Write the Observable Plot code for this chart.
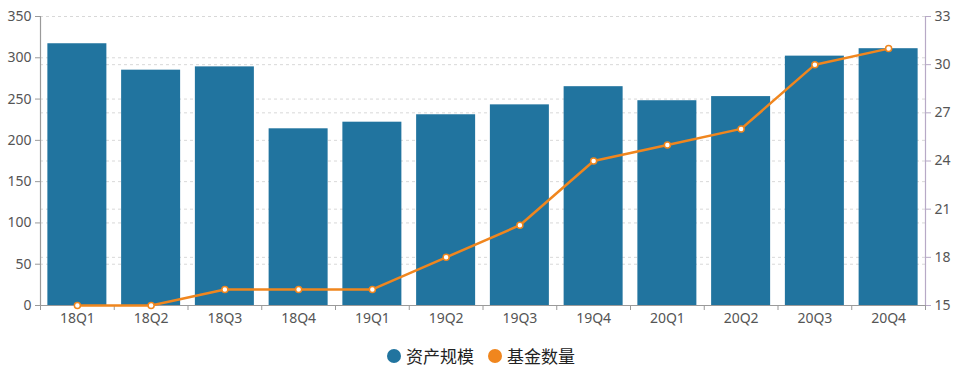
<!DOCTYPE html>
<html>
<head>
<meta charset="utf-8">
<script src="https://cdn.jsdelivr.net/npm/d3@7"></script>
<script src="https://cdn.jsdelivr.net/npm/@observablehq/plot@0.6"></script>
<style>
  html, body { margin: 0; padding: 0; background: #fff; }
  #chart { width: 962px; }
  .legend { display: flex; justify-content: center; align-items: center; gap: 14px; margin-top: 8px;
    font-family: "Noto Sans CJK SC", "Noto Sans", sans-serif; font-size: 17px; color: #222; }
  .legend span { display: inline-flex; align-items: center; }
  .legend i { display: inline-block; width: 14px; height: 14px; border-radius: 50%; margin-right: 5px; }
</style>
</head>
<body>
<div id="chart"></div>
<script>
const categories = ["18Q1","18Q2","18Q3","18Q4","19Q1","19Q2","19Q3","19Q4","20Q1","20Q2","20Q3","20Q4"];
const assetScale = [317, 285, 289, 214, 222, 231, 243, 265, 248, 253, 302, 311];
const fundCount = [15, 15, 16, 16, 16, 18, 20, 24, 25, 26, 30, 31];
const leftTicks = [0, 50, 100, 150, 200, 250, 300, 350];
const rightTicks = [15, 18, 21, 24, 27, 30, 33];
const seriesNames = ["资产规模", "基金数量"];
const colors = ["#21749f", "#f0861e"];

// map right-axis values onto the left-axis domain
const toLeft = v => (v - 15) / (33 - 15) * 350;
const fromLeft = d => Math.round(15 + d * (33 - 15) / 350);

const bars = categories.map((c, i) => ({i, c, v: assetScale[i]}));
const pts = categories.map((c, i) => ({i, c, v: fundCount[i]}));

const font = "'Noto Sans', 'DejaVu Sans', sans-serif";

const chart = Plot.plot({
  width: 962,
  height: 335,
  marginTop: 16,
  marginBottom: 30,
  marginLeft: 40,
  marginRight: 37,
  style: {fontFamily: font, fontSize: "14px", background: "#fff", color: "#555"},
  x: {type: "linear", domain: [0, categories.length], axis: null},
  y: {domain: [0, 350], axis: null},
  marks: [
    Plot.gridY(leftTicks.slice(1), {stroke: "#d8d8d8", strokeOpacity: 1, strokeDasharray: "3,3"}),
    Plot.gridY(rightTicks.slice(1, -1).map(toLeft), {stroke: "#d8d8d8", strokeOpacity: 1, strokeDasharray: "3,3"}),
    Plot.rectY(bars, {x1: d => d.i + 0.1, x2: d => d.i + 0.9, y: "v", fill: colors[0]}),
    Plot.ruleX([0], {stroke: "#9a9a9a", strokeWidth: 1.2}),
    Plot.ruleX([categories.length], {stroke: "#b7a9c6", strokeWidth: 1.2}),
    Plot.ruleY([0], {stroke: "#9a9a9a", strokeWidth: 1.2}),
    Plot.axisY(leftTicks, {anchor: "left", tickSize: 5, tickPadding: 4, stroke: "#9a9a9a", fill: "#555", fontSize: 14, label: null}),
    Plot.axisY(rightTicks.map(toLeft), {anchor: "right", tickSize: 5, tickPadding: 4, stroke: "#b7a9c6", fill: "#555", fontSize: 14, tickFormat: fromLeft, label: null}),
    Plot.axisX(d3.range(categories.length + 1), {anchor: "bottom", tickSize: 5, tickFormat: () => "", stroke: "#9a9a9a", label: null}),
    Plot.axisX(categories.map((c, i) => i + 0.5), {anchor: "bottom", tickSize: 0, tickPadding: 8, tickFormat: d => categories[Math.floor(d)], fill: "#555", fontSize: 14, label: null}),
    Plot.line(pts, {x: d => d.i + 0.5, y: d => toLeft(d.v), stroke: colors[1], strokeWidth: 2.5}),
    Plot.dot(pts, {x: d => d.i + 0.5, y: d => toLeft(d.v), r: 3, fill: "#fff", stroke: colors[1], strokeWidth: 1.5})
  ]
});
document.getElementById("chart").appendChild(chart);

const legend = document.createElement("div");
legend.className = "legend";
seriesNames.forEach((n, k) => {
  const s = document.createElement("span");
  s.innerHTML = `<i style="background:${colors[k]}"></i>${n}`;
  legend.appendChild(s);
});
document.getElementById("chart").appendChild(legend);
</script>
</body>
</html>
